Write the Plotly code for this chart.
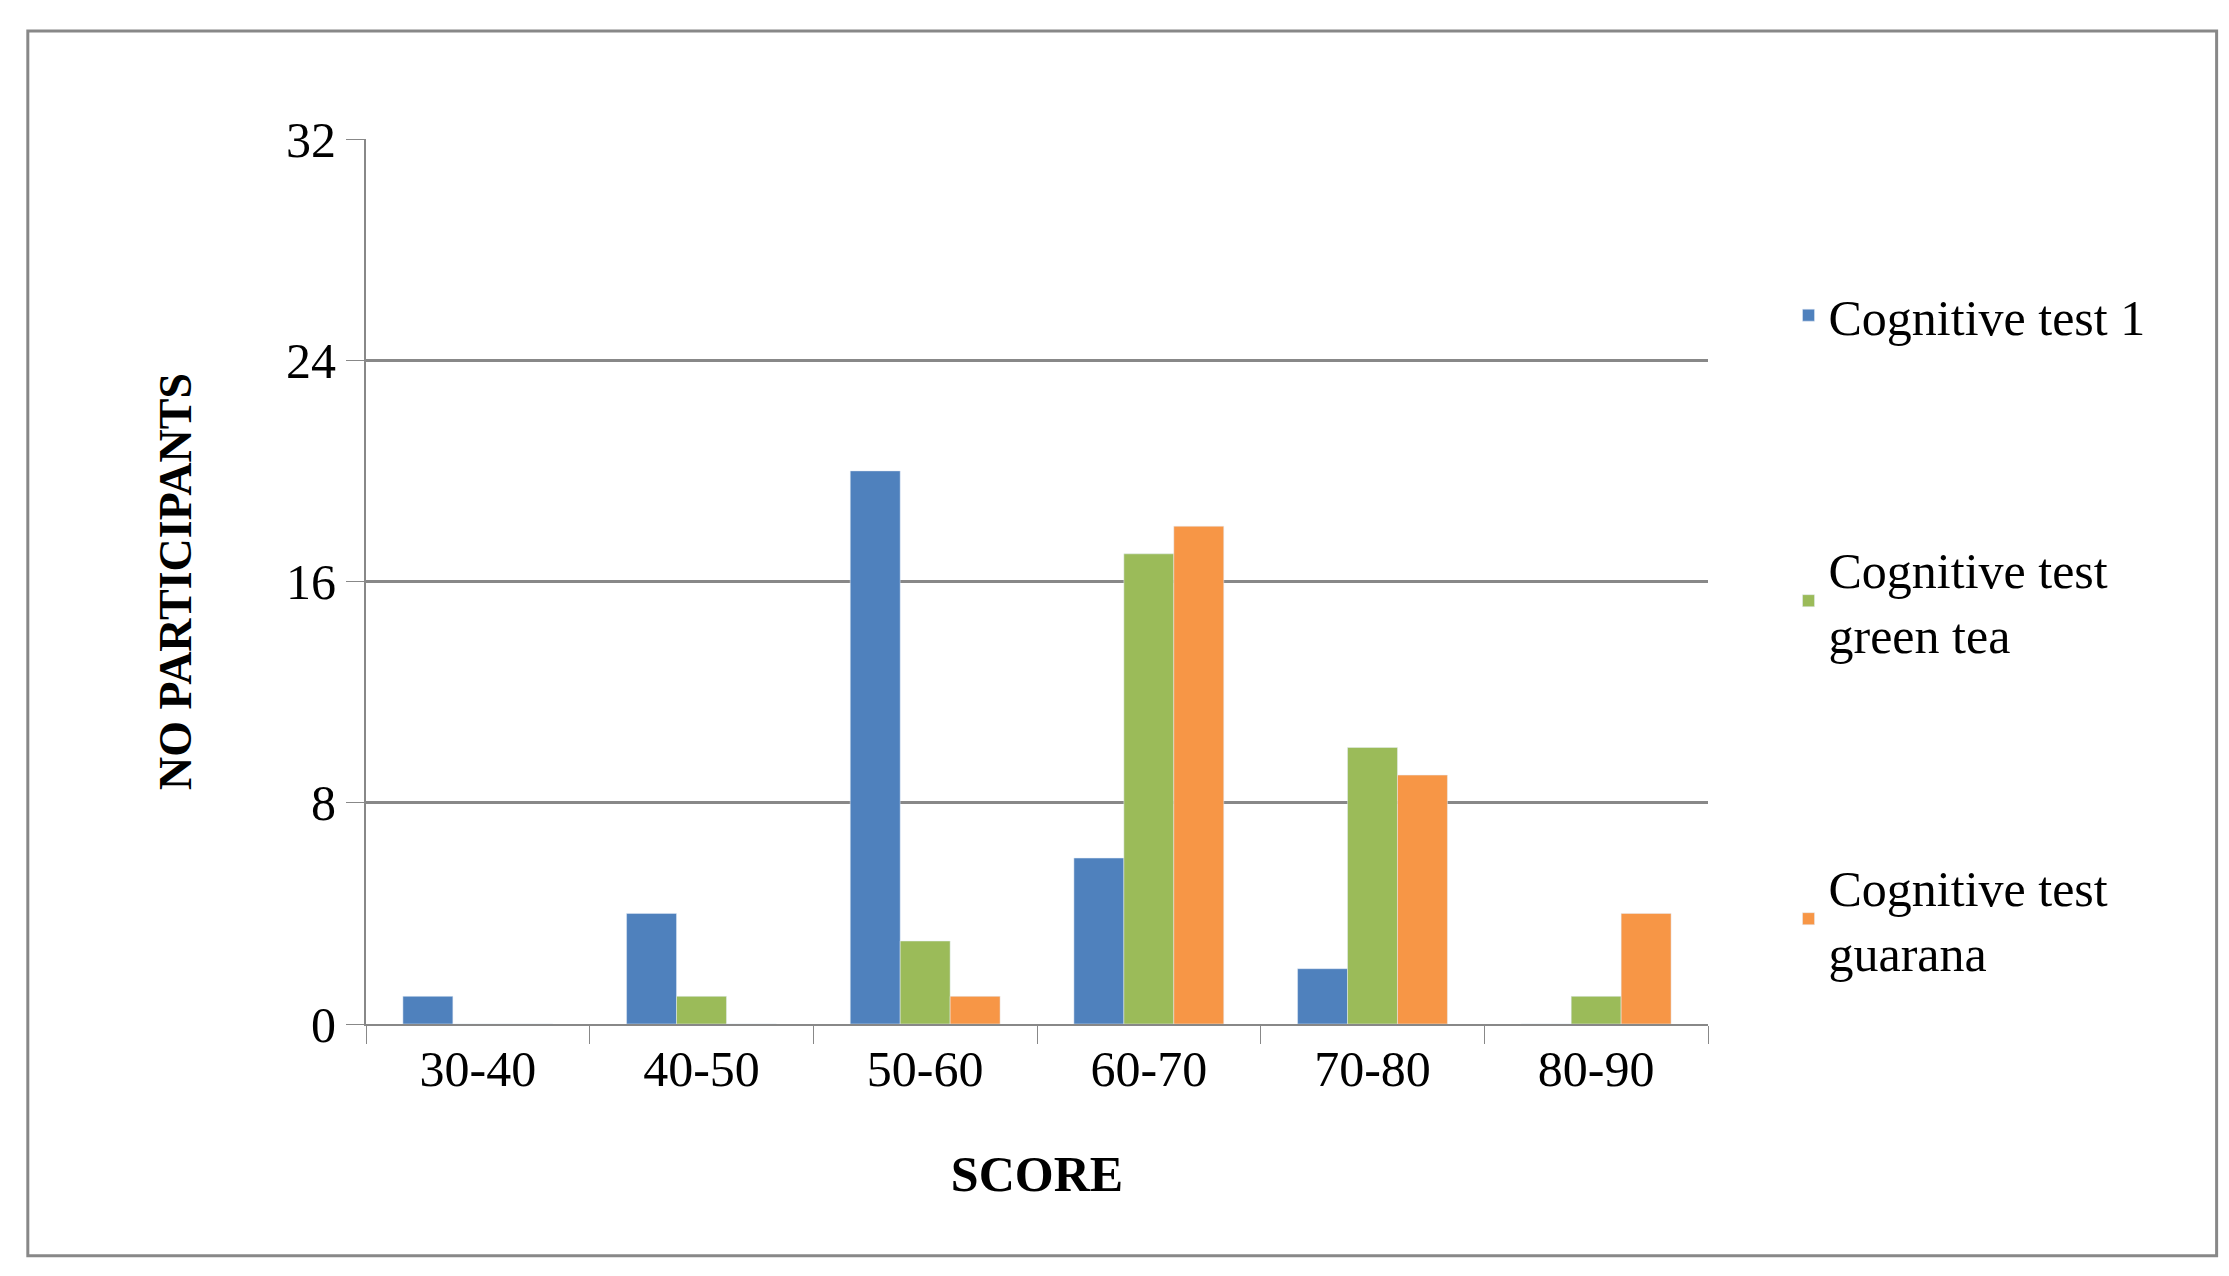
import plotly.graph_objects as go

categories = ["30-40", "40-50", "50-60", "60-70", "70-80", "80-90"]
test1 = [1, 4, 20, 6, 2, 0]
green_tea = [0, 1, 3, 17, 10, 1]
guarana = [0, 0, 1, 18, 9, 4]
names = ["Cognitive test 1", "Cognitive test<br>green tea", "Cognitive test<br>guarana"]
colors = ["#4F81BD", "#9BBB59", "#F79646"]

fig = go.Figure()
for i, (vals, n, c) in enumerate(zip([test1, green_tea, guarana], names, colors)):
    fig.add_bar(x=categories, y=vals, name=n, marker_color=c, legendgroup=str(i))

font = "Liberation Serif"
fig.update_layout(
    width=2229, height=1276,
    paper_bgcolor="white", plot_bgcolor="white",
    margin=dict(l=358, r=529, t=131, b=260),
    barmode="group", bargap=0.33, bargroupgap=0,
    font=dict(family=font, size=50, color="black"),
    legend=dict(x=1.06, y=0.845, xanchor="left", yanchor="top",
                tracegroupgap=185, font=dict(size=50), itemwidth=30),
    xaxis=dict(tickson="boundaries", ticks="outside", ticklen=18, tickcolor="#888",
               showline=True, linecolor="#888", linewidth=2,
               title=dict(text="<b>SCORE</b>", font=dict(size=50), standoff=60)),
    yaxis=dict(range=[0, 32], tickvals=[0, 8, 16, 24, 32], ticks="outside", ticklen=18,
               tickcolor="#888", showline=True, linecolor="#888", linewidth=2,
               showgrid=True, gridcolor="#888", gridwidth=3, zeroline=False,
               title=dict(text="<b>NO PARTICIPANTS</b>", font=dict(size=46), standoff=80)),
    shapes=[dict(type="rect", xref="paper", yref="paper", x0=-0.252, x1=1.379,
                 y0=-0.262, y1=1.122, line=dict(color="#888", width=3))],
)
fig.write_html("out.html")
